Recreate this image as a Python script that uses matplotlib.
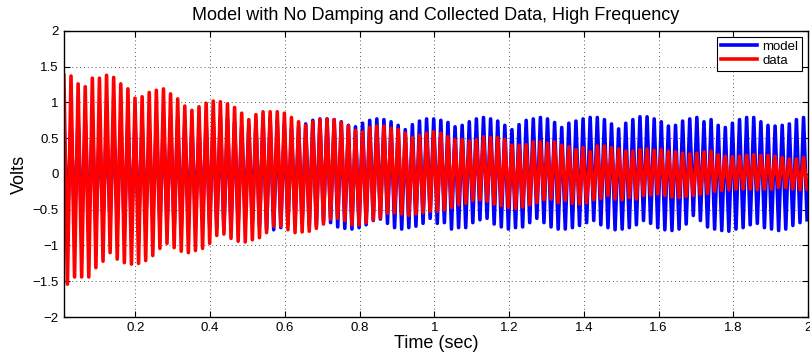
import numpy as np
import matplotlib
matplotlib.use("Agg")
import matplotlib.pyplot as plt

plt.rcParams["font.family"] = ["Liberation Sans", "DejaVu Sans"]

# oscillation timing (one peak every period)
t_first = 0.0088      # time of the first peak (sec)
period = 0.01903      # sec per cycle (~52.5 Hz)

# per-cycle peak / trough values of the collected data (Volts)
data_peaks = [
    1.38, 1.37, 1.26, 1.22, 1.34, 1.34, 1.38, 1.35, 1.26, 1.19, 1.06, 1.08, 1.14, 1.17, 1.19, 1.12, 1.05, 0.95,
    0.89, 0.94, 0.99, 1.02, 1.01, 0.98, 0.93, 0.85, 0.76, 0.83, 0.87, 0.87, 0.87, 0.85, 0.79, 0.73, 0.68, 0.73,
    0.76, 0.77, 0.76, 0.72, 0.67, 0.61, 0.59, 0.65, 0.67, 0.67, 0.64, 0.62, 0.57, 0.51, 0.54, 0.57, 0.59,
    0.57, 0.52, 0.48, 0.48, 0.46, 0.48, 0.52, 0.51, 0.51, 0.48, 0.40, 0.40, 0.41, 0.45, 0.45, 0.43, 0.45, 0.40,
    0.38, 0.34, 0.37, 0.31, 0.39, 0.39, 0.37, 0.35, 0.32, 0.32, 0.34, 0.35, 0.33, 0.34, 0.32, 0.31, 0.29,
    0.28, 0.29, 0.31, 0.32, 0.27, 0.25, 0.24, 0.25, 0.26, 0.27, 0.26, 0.26, 0.25, 0.23, 0.21, 0.21, 0.23,
]
data_troughs = [
    -1.54, -1.44, -1.44, -1.44, -1.31, -1.22, -1.10, -1.19, -1.24, -1.26, -1.25, -1.21, -1.14, -1.04, -0.97, -1.03, -1.08,
    -1.10, -1.07, -1.04, -0.97, -0.86, -0.84, -0.90, -0.94, -0.95, -0.92, -0.89, -0.82, -0.73, -0.73, -0.78, -0.82, -0.81, -0.80,
    -0.76, -0.70, -0.63, -0.62, -0.65, -0.71, -0.71, -0.68, -0.64, -0.61, -0.55, -0.54, -0.56, -0.58, -0.56, -0.54, -0.52,
    -0.52,
    -0.50, -0.47, -0.43, -0.41, -0.37, -0.36, -0.38, -0.42, -0.44, -0.47, -0.48, -0.46, -0.43, -0.40, -0.36, -0.35, -0.40,
    -0.37, -0.41, -0.42, -0.40, -0.36, -0.34, -0.30, -0.35, -0.36, -0.33, -0.35, -0.30, -0.29, -0.28, -0.30, -0.32, -0.33,
    -0.31,
    -0.30, -0.28, -0.27, -0.24, -0.23, -0.22, -0.21, -0.21, -0.21, -0.22, -0.21, -0.21, -0.19, -0.19, -0.21, -0.22, -0.21,
]

# per-cycle peak / trough values of the undamped model (Volts)
model_peaks = [
    0.74, 0.77, 0.79, 0.77, 0.72, 0.66, 0.69, 0.75, 0.78, 0.79, 0.76, 0.70, 0.64, 0.70, 0.76, 0.79, 0.78, 0.74,
    0.68, 0.65, 0.71, 0.76, 0.79, 0.77, 0.72, 0.66, 0.68, 0.74, 0.78, 0.78, 0.75, 0.69, 0.63, 0.66, 0.70,
    0.75, 0.77, 0.77, 0.76, 0.73, 0.68, 0.66, 0.71, 0.75, 0.77, 0.76, 0.73, 0.68, 0.62, 0.69, 0.74, 0.77, 0.77,
    0.75, 0.72, 0.66, 0.68, 0.73, 0.77, 0.79, 0.77, 0.74, 0.68, 0.62, 0.69, 0.75, 0.77, 0.79, 0.77, 0.72, 0.65,
    0.71, 0.74, 0.77, 0.79, 0.79, 0.76, 0.70, 0.63, 0.71, 0.76, 0.80, 0.80, 0.77, 0.73, 0.67, 0.68, 0.74,
    0.77, 0.79, 0.73, 0.76, 0.68, 0.65, 0.71, 0.76, 0.79, 0.79, 0.73, 0.68, 0.67, 0.68, 0.70, 0.76, 0.79,
]
model_troughs = [
    -0.70, -0.75, -0.78, -0.77, -0.72, -0.66, -0.66, -0.72, -0.77, -0.78, -0.75, -0.69, -0.64, -0.68, -0.74, -0.78, -0.77, -0.72,
    -0.66, -0.65, -0.71, -0.76, -0.78, -0.76, -0.70, -0.64, -0.67, -0.73, -0.77, -0.78, -0.75, -0.70, -0.66, -0.68, -0.72, -0.72, -0.66,
    -0.68, -0.74, -0.76, -0.77, -0.75, -0.71, -0.65, -0.63, -0.69, -0.75, -0.77, -0.75, -0.73, -0.69, -0.62, -0.69,
    -0.68, -0.77, -0.75, -0.75, -0.68, -0.64, -0.62, -0.70, -0.74, -0.77, -0.75, -0.74, -0.68, -0.62, -0.68, -0.74, -0.77,
    -0.77, -0.75, -0.72, -0.68, -0.65, -0.71, -0.75, -0.78, -0.77, -0.75, -0.71, -0.65, -0.69, -0.75, -0.78, -0.79, -0.77,
    -0.70,
    -0.58, -0.65, -0.74, -0.77, -0.79, -0.80, -0.77, -0.75, -0.71, -0.69, -0.75, -0.77, -0.79, -0.77, -0.72, -0.68, -0.64,
]

x_ticks = [0.2, 0.4, 0.6, 0.8, 1.0, 1.2, 1.4, 1.6, 1.8, 2.0]
x_tick_labels = ["0.2", "0.4", "0.6", "0.8", "1", "1.2", "1.4", "1.6", "1.8", "2"]
y_ticks = [-2, -1.5, -1, -0.5, 0, 0.5, 1, 1.5, 2]
y_tick_labels = ["\u22122", "\u22121.5", "\u22121", "\u22120.5", "0", "0.5", "1", "1.5", "2"]


def zigzag(peaks, troughs):
    # peak, trough, peak, trough ... half a period apart
    n = min(len(peaks), len(troughs))
    y = np.empty(2 * n)
    y[0::2] = peaks[:n]
    y[1::2] = troughs[:n]
    t = t_first + np.arange(2 * n) * period / 2
    return t, y


t_m, y_m = zigzag(model_peaks, model_troughs)
t_d, y_d = zigzag(data_peaks, data_troughs)

fig = plt.figure(figsize=(8.1, 3.58), dpi=100)
ax = fig.add_axes([0.0786, 0.1145, 0.919, 0.799])

ax.plot(t_m, y_m, color="#0000ff", linewidth=2.6, label="model")
ax.plot(t_d, y_d, color="#ff0000", linewidth=2.6, label="data")

ax.set_xlim(0.0082, 2.0)
ax.set_ylim(-2, 2)
ax.set_xticks(x_ticks)
ax.set_xticklabels(x_tick_labels)
ax.set_yticks(y_ticks)
ax.set_yticklabels(y_tick_labels)
ax.tick_params(direction="in", top=True, right=True, length=4, labelsize=9.5, width=0.8)
ax.grid(True, linestyle=(0, (1, 3)), color="0.35", linewidth=0.7)
ax.set_axisbelow(True)
for s in ax.spines.values():
    s.set_linewidth(1.0)

ax.set_title("Model with No Damping and Collected Data, High Frequency", fontsize=13, pad=8)
ax.set_xlabel("Time (sec)", fontsize=13, labelpad=1)
ax.set_ylabel("Volts", fontsize=13, labelpad=3)

leg = ax.legend(loc="upper right", fontsize=9.5, fancybox=False, framealpha=1,
                edgecolor="black", handlelength=2.7, borderaxespad=0.45,
                borderpad=0.3, labelspacing=0.1, handletextpad=0.4)
leg.get_frame().set_linewidth(0.8)

fig.savefig("out.png", dpi=100)
